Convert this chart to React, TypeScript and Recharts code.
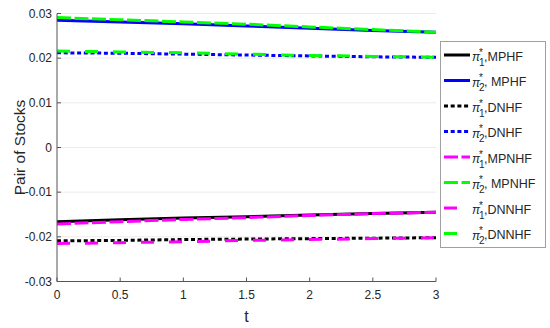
import React from 'react';
import { LineChart, Line, XAxis, YAxis, CartesianGrid, Legend } from 'recharts';

const tValues = [0, 0.5, 1, 1.5, 2, 2.5, 3];
const pi1MPHF = [-0.0166, -0.0162, -0.0158, -0.0155, -0.0151, -0.0148, -0.0145];
const pi2MPHF = [0.0285, 0.0281, 0.0277, 0.0272, 0.0267, 0.0262, 0.0258];
const pi1DNHF = [-0.0209, -0.0208, -0.0206, -0.0205, -0.0204, -0.0203, -0.0202];
const pi2DNHF = [0.0212, 0.0211, 0.0209, 0.0207, 0.0205, 0.0203, 0.0202];
const pi1MPNHF = [-0.0171, -0.0166, -0.0161, -0.0157, -0.0152, -0.0148, -0.0145];
const pi2MPNHF = [0.0291, 0.0286, 0.0281, 0.0276, 0.027, 0.0264, 0.0258];
const pi1DNNHF = [-0.0215, -0.0213, -0.0211, -0.0208, -0.0206, -0.0204, -0.0202];
const pi2DNNHF = [0.0216, 0.0214, 0.0212, 0.0209, 0.0206, 0.0204, 0.0202];

const xTicks = [0, 0.5, 1, 1.5, 2, 2.5, 3];
const yTicks = [-0.03, -0.02, -0.01, 0, 0.01, 0.02, 0.03];

const seriesKeys = ['s1', 's2', 's3', 's4', 's5', 's6', 's7', 's8'];
const seriesValues = [pi1MPHF, pi2MPHF, pi1DNHF, pi2DNHF, pi1MPNHF, pi2MPNHF, pi1DNNHF, pi2DNNHF];
const seriesSub = ['1', '2', '1', '2', '1', '2', '1', '2'];
const seriesNames = [',MPHF', ', MPHF', ',DNHF', ',DNHF', ',MPNHF', ', MPNHF', ',DNNHF', ',DNNHF'];
const seriesColors = ['#000000', '#0000ff', '#000000', '#0000ff', '#ff00ff', '#00ff00', '#ff00ff', '#00ff00'];
const seriesDash = [undefined, undefined, '4 2.7', '4 2.7', '14 3.5', '14 3.5', '13 15', '13 15'];

const data = tValues.map((t, i) => {
  const row: Record<string, number> = { t };
  seriesKeys.forEach((k, j) => {
    row[k] = seriesValues[j][i];
  });
  return row;
});

const FONT = '"Liberation Sans", Arial, sans-serif';
const AXIS_COLOR = '#555555';
const TEXT_COLOR = '#262626';

const fmtY = (v: number) => String(Math.round(v * 100) / 100);

const LegendBox = () => {
  const w = 105;
  const h = 206;
  const y0 = 14;
  const step = 25.5;
  return (
    <svg width={w + 1} height={h + 1} style={{ display: 'block', fontFamily: FONT }}>
      <rect x={0.5} y={0.5} width={w} height={h} fill="#ffffff" stroke="#a0a0a0" strokeWidth={1} />
      {seriesKeys.map((k, i) => {
        const yc = y0 + i * step;
        return (
          <g key={k}>
            <line
              x1={4}
              x2={30}
              y1={yc}
              y2={yc}
              stroke={seriesColors[i]}
              strokeWidth={3}
              strokeDasharray={seriesDash[i]}
            />
            <text x={32} y={yc + 6} fontSize={12} fontStyle="italic" fill={TEXT_COLOR}>π</text>
            <text x={39} y={yc + 0.5} fontSize={10} fill={TEXT_COLOR}>*</text>
            <text x={39} y={yc + 10.5} fontSize={10} fill={TEXT_COLOR}>{seriesSub[i]}</text>
            <text x={44} y={yc + 5.5} fontSize={12.5} fill={TEXT_COLOR}>{seriesNames[i]}</text>
          </g>
        );
      })}
    </svg>
  );
};

const YLabel = (props: any) => {
  const vb = props.viewBox || { x: 0, y: 0, width: 0, height: 0 };
  const cx = vb.x + 19;
  const cy = vb.y + vb.height / 2;
  return (
    <text
      x={cx}
      y={cy}
      transform={`rotate(-90, ${cx}, ${cy})`}
      textAnchor="middle"
      dominantBaseline="central"
      fontSize={15.5}
      fontFamily={FONT}
      fill={TEXT_COLOR}
    >
      Pair of Stocks
    </text>
  );
};

export default function App() {
  return (
    <div style={{ position: 'absolute', left: 0, top: 0, width: 550, height: 328, background: '#ffffff' }}>
      <LineChart
        width={550}
        height={328}
        data={data}
        margin={{ top: 13.5, right: 114, bottom: 0, left: 0 }}
      >
        <CartesianGrid vertical={false} stroke="#ebebeb" strokeWidth={1} />
        <XAxis
          dataKey="t"
          type="number"
          domain={[0, 3]}
          ticks={xTicks}
          height={46.5}
          stroke={AXIS_COLOR}
          tickSize={-4}
          tickMargin={12.5}
          tick={{ fontSize: 12, fontFamily: FONT, fill: TEXT_COLOR }}
          interval={0}
          allowDataOverflow
          label={{ value: 't', position: 'insideBottom', offset: 6, fontSize: 16, fontFamily: FONT, fill: TEXT_COLOR }}
        />
        <XAxis
          xAxisId="top"
          orientation="top"
          dataKey="t"
          type="number"
          domain={[0, 3]}
          ticks={xTicks}
          height={0}
          stroke={AXIS_COLOR}
          tickSize={-4}
          tick={false}
          interval={0}
        />
        <YAxis
          type="number"
          domain={[-0.03, 0.03]}
          ticks={yTicks}
          width={57}
          stroke={AXIS_COLOR}
          tickSize={-4}
          tickMargin={9}
          tickFormatter={fmtY}
          tick={{ fontSize: 12, fontFamily: FONT, fill: TEXT_COLOR }}
          interval={0}
          allowDataOverflow
          label={<YLabel />}
        />
        <YAxis
          yAxisId="right"
          orientation="right"
          type="number"
          domain={[-0.03, 0.03]}
          ticks={yTicks}
          width={0}
          stroke={AXIS_COLOR}
          tickSize={-4}
          tick={false}
          interval={0}
        />
        {seriesKeys.map((k, i) => (
          <Line
            key={k}
            dataKey={k}
            type="linear"
            stroke={seriesColors[i]}
            strokeWidth={3}
            strokeDasharray={seriesDash[i]}
            dot={false}
            activeDot={false}
            isAnimationActive={false}
          />
        ))}
        <Legend
          layout="vertical"
          align="center"
          verticalAlign="middle"
          content={() => <LegendBox />}
          wrapperStyle={{ position: 'absolute', left: 440, top: 41, width: 107, height: 208, margin: 0, padding: 0 }}
        />
      </LineChart>
    </div>
  );
}
